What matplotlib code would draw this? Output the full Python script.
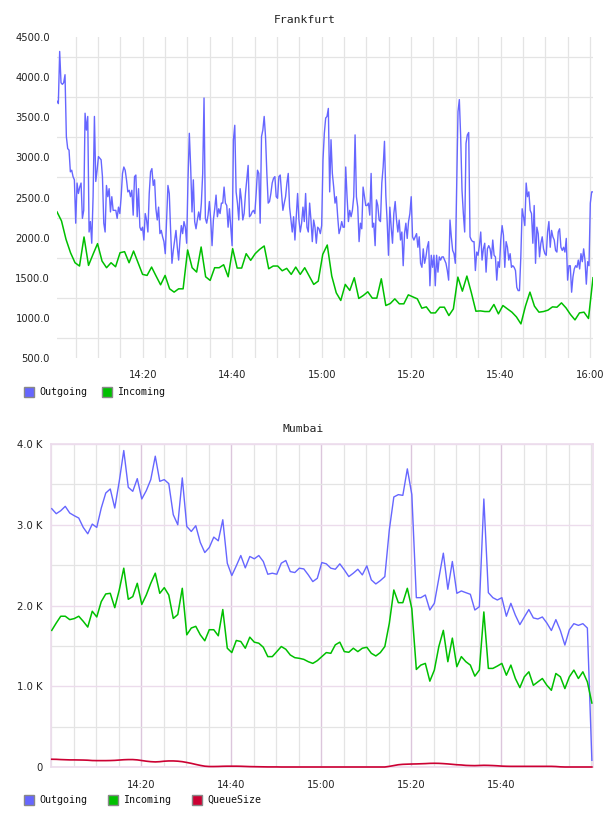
import matplotlib
matplotlib.use('Agg')
import matplotlib.pyplot as plt
import matplotlib.dates as mdates
from matplotlib.patches import Rectangle
import pandas as pd

# ---- Frankfurt: Outgoing sampled ~every 18 s, Incoming every minute
fra_outgoing = [
    3700, 3670, 4320, 3930, 3910, 3930, 4030, 3260, 3110, 3090, 2820, 2840, 2760, 2720, 2180,
    2680, 2550, 2630, 2680, 2240, 2340, 3550, 3340, 3510, 2070, 2200, 1930, 2510, 3510,
    2700, 2840, 3010, 2990, 2970, 2760, 2180, 2070, 2650, 2510,
    2610, 2320, 2510, 2340, 2340, 2340, 2240, 2380, 2300, 2510,
    2800, 2880, 2840, 2720, 2570, 2590, 2510, 2590, 2280, 2760,
    2780, 2260, 2610, 2130, 2090, 2130, 1970, 2300, 2220, 2070,
    2550, 2820, 2860, 2650, 2720, 2360, 2220, 2380, 2050, 2090,
    2010, 1950, 1800, 2220, 2650, 2550, 2090, 1680, 1840, 1970,
    2090, 1880, 1720, 1970, 2150, 2050, 2200, 2130, 1930, 2720,
    3300, 2880, 2320,
    2720, 2200, 2110, 2220, 2320, 2220, 2430, 2800, 3740, 2240,
    2180, 2280, 2450, 2220, 1900, 2220, 2360, 2530, 2260, 2360,
    2300, 2430, 2430, 2630, 2430, 2400, 2130, 2360, 2130, 1900,
    3220, 3400, 2570, 2430, 2220, 2610, 2470, 2220, 2300, 2550,
    2720, 2900, 2260, 2280, 2320, 2340, 2300, 2550, 2840, 2800,
    2180, 3260, 3340, 3510, 3260, 2800, 2430, 2450, 2550, 2680,
    2740, 2760, 2510, 2490, 2760, 2780, 2550, 2340, 2430, 2510,
    2680, 2800, 2380, 2220, 2070, 2260, 1970, 2260, 2550, 2220,
    2070, 2180, 2380, 2200, 2550, 2130, 2070, 2430, 2220, 1950,
    2220, 2130, 1930, 2130, 2110, 2050, 2150, 2970, 3300, 3490,
    3510,
    3610, 2570, 3220, 2800, 2630, 2430, 2510, 2260, 2050, 2110,
    2200, 2130, 2130, 2880, 2510, 2200, 2340, 2260, 2340, 2510,
    3280, 2510, 2380, 1950, 2180, 2110, 2630, 2510, 2400, 2400,
    2430, 2280, 2800, 2130, 2180, 1900, 2470, 2400, 2220, 2200,
    2680, 2880, 3200, 2530, 2200, 1780, 2380, 2130, 1930, 2300,
    2450, 2220, 2070, 2220, 1970, 2070, 1650, 2050, 2180, 1990,
    2200, 2300, 2510, 2010, 1970, 2010, 2050, 1880, 2010, 1680,
    1630, 1860, 1680, 1760, 1880, 1950, 1400, 1780, 1630, 1780,
    1400, 1780, 1570, 1760, 1720, 1760, 1760, 1720, 1680, 1590,
    1470, 2220, 2010, 1840, 1800, 1680, 2630, 3570, 3720, 3260,
    2590,
    2300, 2070, 3175, 3280, 3310, 2010, 1970, 1950, 1950, 1590,
    1820, 1780, 1900, 2070, 1720, 1860, 1930, 1570, 1860, 1900,
    1860, 1740, 1970, 1780, 1760, 1470, 1700, 1630, 1970, 2150,
    2030, 1630, 1950, 1880, 1720, 1800, 1630, 1650, 1630, 1590,
    1380, 1340, 1340, 1760, 2360, 2260, 2150, 2680, 2510, 2570,
    2340, 2300, 1930, 2400, 1680, 2130, 2050, 1760, 1930, 2010,
    1860, 1800, 1780, 2070, 2200, 1880, 2090, 2010, 1970, 1840,
    1820, 2070, 2110, 1880, 1840, 1880, 1820, 1990, 1470, 1650,
    1650, 1320, 1510, 1610, 1650, 1630, 1720, 1610, 1800, 1700,
    1860, 1720, 1420, 1700, 1650, 2430, 2570, 2570,
]
fra_incoming = [
    2321, 2208, 1979, 1812, 1687, 1646, 2008, 1654, 1792, 1925,
    1708, 1625, 1687, 1637, 1812, 1825, 1687, 1833, 1687, 1542,
    1529, 1633, 1521, 1412, 1529, 1362, 1321, 1362, 1362, 1846,
    1625, 1571, 1883, 1512, 1467, 1625, 1625, 1662, 1512, 1862,
    1621, 1621, 1800, 1717, 1800, 1854, 1896, 1612, 1646, 1646,
    1587, 1617, 1542, 1633, 1542, 1625, 1521, 1417, 1458, 1792,
    1908, 1521, 1312, 1217, 1417, 1342, 1500, 1242, 1279, 1325,
    1246, 1246, 1487, 1154, 1179, 1237, 1175, 1175, 1287, 1262,
    1237, 1121, 1137, 1062, 1062, 1133, 1133, 1029, 1112, 1508,
    1333, 1521, 1312, 1083, 1087, 1079, 1079, 1167, 1050, 1154,
    1112, 1071, 1012, 925, 1146, 1321, 1146, 1071, 1079, 1096,
    1137, 1133, 1187, 1125, 1042, 975, 1062, 1071, 992, 1500,
]
fra_start, fra_end = '2020-09-15 14:00:50', '2020-09-15 16:00:40'
fra_yticks = [500, 1000, 1500, 2000, 2500, 3000, 3500, 4000, 4500]

# ---- Mumbai: one sample per minute
mum_outgoing = [
    3199, 3137, 3174, 3228, 3145, 3112, 3083, 2967, 2888, 3008,
    2967, 3207, 3393, 3443, 3207, 3538, 3919, 3464, 3414, 3571,
    3319, 3422, 3559, 3849, 3538, 3559, 3509, 3124, 3000, 3580,
    2979, 2917, 2988, 2781, 2656, 2718, 2847, 2801, 3062, 2524,
    2371, 2491, 2619, 2466, 2607, 2578, 2619, 2545, 2387, 2400,
    2387, 2524, 2557, 2420, 2408, 2462, 2453, 2379, 2296, 2337,
    2532, 2516, 2462, 2449, 2516, 2441, 2358, 2400, 2449, 2379,
    2491, 2317, 2267, 2308, 2358, 2938, 3344, 3373, 3364, 3692,
    3373, 2097, 2097, 2130, 1944, 2027, 2337, 2648, 2201, 2545,
    2151, 2180, 2159, 2139, 1944, 1985, 3319, 2159, 2097, 2068,
    2097, 1867, 2027, 1880, 1763, 1858, 1950, 1846, 1833, 1858,
    1783, 1690, 1825, 1690, 1510, 1700, 1775, 1754, 1775, 1721,
    83,
]
mum_incoming = [
    1692, 1783, 1867, 1867, 1825, 1838, 1867, 1804, 1733, 1929,
    1858, 2048, 2143, 2151, 1973, 2192, 2462, 2077, 2110, 2275,
    2014, 2130, 2275, 2400, 2151, 2221, 2130, 1840, 1888, 2213,
    1637, 1721, 1742, 1637, 1563, 1700, 1700, 1625, 1950, 1471,
    1417, 1567, 1554, 1471, 1608, 1546, 1533, 1483, 1367, 1367,
    1429, 1492, 1458, 1387, 1354, 1346, 1333, 1304, 1283, 1317,
    1367, 1417, 1408, 1513, 1546, 1429, 1421, 1471, 1429, 1471,
    1483, 1408, 1375, 1417, 1492, 1780, 2192, 2035, 2035, 2213,
    1960, 1208, 1262, 1283, 1063, 1200, 1492, 1692, 1304, 1596,
    1242, 1367, 1304, 1262, 1125, 1200, 1920, 1221, 1221, 1250,
    1283, 1137, 1262, 1096, 983, 1117, 1179, 1012, 1054, 1096,
    1012, 950, 1158, 1117, 971, 1117, 1200, 1096, 1179, 1054,
    792,
]
mum_queue = [
    96, 95, 92, 90, 88, 88, 87, 86, 84, 80,
    79, 79, 79, 80, 82, 86, 90, 92, 92, 88,
    80, 72, 66, 63, 66, 72, 75, 75, 72, 66,
    56, 45, 32, 20, 10, 6, 6, 7, 9, 10,
    10, 10, 9, 7, 5, 4, 3, 2, 1, 1,
    1, 0, 0, 0, 0, 0, 0, 0, 0, 0,
    0, 0, 0, 0, 0, 0, 0, 0, 0, 0,
    0, 0, 0, 0, 0, 8, 18, 28, 33, 35,
    37, 38, 40, 42, 45, 46, 45, 42, 38, 33,
    28, 25, 20, 18, 17, 19, 21, 20, 18, 15,
    11, 9, 8, 8, 8, 8, 8, 8, 8, 8,
    8, 8, 6, 2, 0, 0, 0, 0, 0, 0,
    0,
]
mum_start = '2020-09-15 14:00:10'
mum_xlim = ('2020-09-15 14:00:00', '2020-09-15 16:00:25')
mum_yticks = [0, 1000, 2000, 3000, 4000]
mum_ylabels = ['0', '1.0 K', '2.0 K', '3.0 K', '4.0 K']

C_OUT = '#6666ff'
C_IN = '#00c000'
C_Q = '#cc0033'
GRID = '#e4e4e4'
PINK_H = '#ecdcec'
PINK_V = '#dcc6dc'
MONO = 'DejaVu Sans Mono'

W, H = 608, 816
fig = plt.figure(figsize=(W / 100, H / 100), dpi=100)


def px_axes(l, t, r, b):
    return fig.add_axes([l / W, 1 - b / H, (r - l) / W, (b - t) / H])


def legend(y, items):
    for x, label, col in items:
        fig.add_artist(Rectangle((x / W, 1 - (y + 5) / H), 10 / W, 10 / H,
                                 transform=fig.transFigure, facecolor=col,
                                 edgecolor='#888888', lw=1.0))
        fig.text((x + 15) / W, 1 - y / H, label, family=MONO, fontsize=7.2,
                 va='center', ha='left', color='#111111')


# ---------------- Frankfurt
ax1 = px_axes(57, 37, 593, 358)
t_out = pd.date_range(fra_start, fra_end, periods=len(fra_outgoing))
t_in = pd.date_range(fra_start, fra_end, periods=len(fra_incoming))
ax1.plot(t_out, fra_outgoing, color=C_OUT, lw=1.0, zorder=3)
ax1.plot(t_in, fra_incoming, color=C_IN, lw=1.1, zorder=3)
ax1.set_xlim(t_in[0], t_in[-1])
ax1.set_ylim(500, 4500)
ax1.set_yticks(fra_yticks)
ax1.set_yticklabels(['%.1f' % v for v in fra_yticks])
ax1.set_yticks([v + 250 for v in fra_yticks[:-1]], minor=True)
ax1.xaxis.set_major_locator(mdates.MinuteLocator(byminute=[0, 20, 40]))
ax1.xaxis.set_minor_locator(mdates.MinuteLocator(byminute=range(0, 60, 5)))
ax1.xaxis.set_major_formatter(mdates.DateFormatter('%H:%M'))
ax1.grid(True, which='minor', color=GRID, lw=0.9)
ax1.grid(True, which='major', axis='x', color=GRID, lw=0.9)
ax1.grid(False, which='major', axis='y')
ax1.set_axisbelow(True)
for s in ax1.spines.values():
    s.set_visible(False)
ax1.tick_params(which='both', length=0)
ax1.tick_params(axis='y', pad=5, labelsize=7.2, labelcolor='#222222')
ax1.tick_params(axis='x', pad=9, labelsize=7.2, labelcolor='#222222')
fig.text(305 / W, 1 - 20 / H, 'Frankfurt', family=MONO, fontsize=8.2,
         ha='center', va='center', color='#222222')
legend(392, [(24, 'Outgoing', C_OUT), (102, 'Incoming', C_IN)])

# ---------------- Mumbai
ax2 = px_axes(51, 444, 593, 767)
t_m = pd.date_range(mum_start, periods=len(mum_outgoing), freq='60s')
ax2.plot(t_m, mum_outgoing, color=C_OUT, lw=1.0, zorder=3)
ax2.plot(t_m, mum_incoming, color=C_IN, lw=1.1, zorder=3)
ax2.plot(t_m, mum_queue, color=C_Q, lw=1.2, zorder=4, clip_on=False)
ax2.set_xlim(pd.Timestamp(mum_xlim[0]), pd.Timestamp(mum_xlim[1]))
ax2.set_ylim(0, 4000)
ax2.set_yticks(mum_yticks)
ax2.set_yticklabels(mum_ylabels)
ax2.set_yticks([500, 1500, 2500, 3500], minor=True)
major_x = pd.date_range('2020-09-15 14:20', '2020-09-15 15:40', freq='20min')
ax2.set_xticks(major_x)
ax2.set_xticklabels([t.strftime('%H:%M') for t in major_x])
ax2.xaxis.set_minor_locator(mdates.MinuteLocator(byminute=range(0, 60, 5)))
ax2.grid(True, which='minor', color=GRID, lw=0.9)
ax2.grid(True, which='major', axis='y', color=PINK_H, lw=1.0)
ax2.grid(True, which='major', axis='x', color=PINK_V, lw=1.0)
ax2.set_axisbelow(True)
for s in ax2.spines.values():
    s.set_color(PINK_H)
    s.set_linewidth(1.2)
ax2.tick_params(which='both', length=0)
ax2.tick_params(axis='y', pad=6, labelsize=7.2, labelcolor='#222222')
ax2.tick_params(axis='x', pad=9, labelsize=7.2, labelcolor='#222222')
fig.text(303 / W, 1 - 429 / H, 'Mumbai', family=MONO, fontsize=8.2,
         ha='center', va='center', color='#222222')
legend(800, [(24, 'Outgoing', C_OUT), (108, 'Incoming', C_IN),
             (192, 'QueueSize', C_Q)])

fig.savefig('out.png', dpi=100)
